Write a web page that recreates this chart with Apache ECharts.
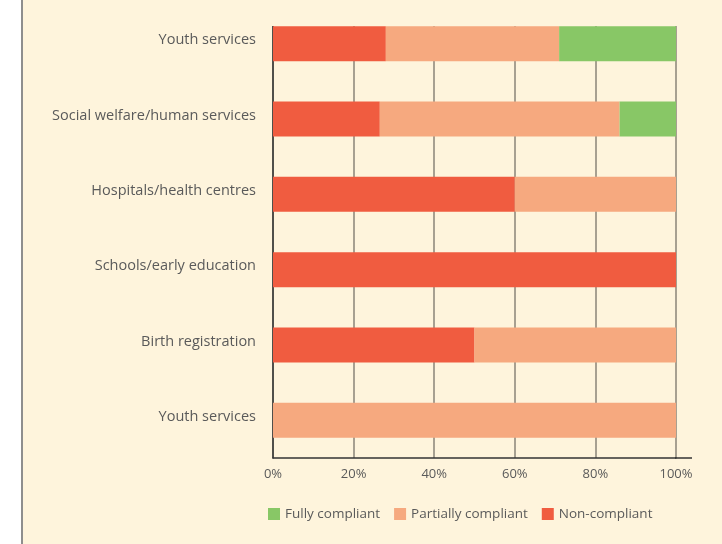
<!DOCTYPE html>
<html>
<head>
<meta charset="utf-8">
<script src="https://cdn.jsdelivr.net/npm/echarts@6/dist/echarts.min.js"></script>
<style>
  html, body { margin: 0; padding: 0; background: #ffffff; }
  #main {
    position: absolute; left: 21px; top: 0;
    width: 701px; height: 544px;
    background: #fef4dc;
    border-left: 2px solid #8e8e8e;
    box-sizing: border-box;
  }
</style>
</head>
<body>
<div id="main"></div>
<script>
// categories, top to bottom
var categories = ['Youth services', 'Social welfare/human services', 'Hospitals/health centres',
  'Schools/early education', 'Birth registration', 'Youth services'];
// percent of each row
var nonCompliant = [28, 26.5, 60, 100, 50, 0];
var partiallyCompliant = [43, 59.5, 40, 0, 50, 100];
var fullyCompliant = [29, 14, 0, 0, 0, 0];
var xTicks = [0, 20, 40, 60, 80, 100];

var myChart = echarts.init(document.getElementById('main'));
var font = '"Open Sans", "Noto Sans", sans-serif';
var bg = '#fef4dc';

var option = {
  textStyle: { fontFamily: font },
  grid: { left: 250, right: 46, top: 6, bottom: 86 },
  legend: {
    left: 240, top: 502,
    itemWidth: 12, itemHeight: 12, itemGap: 14,
    icon: 'rect',
    data: ['Fully compliant', 'Partially compliant', 'Non-compliant'],
    textStyle: { color: '#5a5a5a', fontSize: 13.5, fontFamily: font }
  },
  // hide the grid above the first bar and extend the x axis a bit, as in the original
  graphic: [
    { type: 'rect', left: 245, top: 0, z: 100, shape: { width: 440, height: 26 }, style: { fill: bg } },
    { type: 'line', z: 100, shape: { x1: 652, y1: 458, x2: 669, y2: 458 }, style: { stroke: '#333', lineWidth: 1.5 } }
  ],
  xAxis: {
    type: 'value',
    min: 0, max: 100, interval: 20,
    axisLine: { show: true, lineStyle: { color: '#333', width: 1.5 } },
    axisTick: { show: false },
    splitLine: { show: true, lineStyle: { color: '#8a8478', width: 1.5 } },
    axisLabel: {
      color: '#5a5a5a', fontSize: 13, margin: 10, fontFamily: font,
      formatter: function (v) { return xTicks.indexOf(v) >= 0 ? v + '%' : ''; }
    }
  },
  yAxis: {
    type: 'category',
    inverse: true,
    data: categories,
    axisLine: { show: true, lineStyle: { color: '#333', width: 1.5 } },
    axisTick: { show: false },
    axisLabel: {
      color: '#5a5a5a', fontSize: 14.5, margin: 17, fontFamily: font,
      verticalAlign: 'bottom', lineHeight: 7
    }
  },
  series: [
    {
      name: 'Non-compliant', type: 'bar', stack: 'all', barWidth: 35,
      itemStyle: { color: '#f05c40' },
      data: nonCompliant
    },
    {
      name: 'Partially compliant', type: 'bar', stack: 'all', barWidth: 35,
      itemStyle: { color: '#f6a97f' },
      data: partiallyCompliant
    },
    {
      name: 'Fully compliant', type: 'bar', stack: 'all', barWidth: 35,
      itemStyle: { color: '#88c766' },
      data: fullyCompliant
    }
  ]
};
myChart.setOption(option);
</script>
</body>
</html>
